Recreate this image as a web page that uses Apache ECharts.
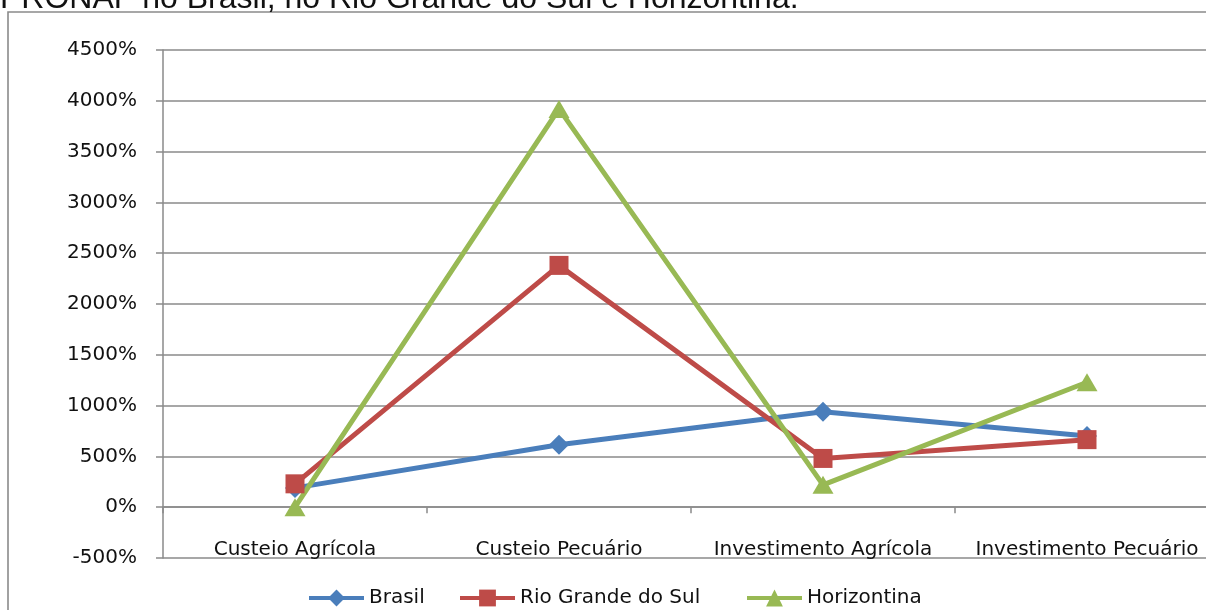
<!DOCTYPE html>
<html>
<head>
<meta charset="utf-8">
<script src="https://cdn.jsdelivr.net/npm/echarts@6/dist/echarts.min.js"></script>
<style>
  html, body { margin: 0; padding: 0; background: #fff; overflow: hidden; width: 1206px; height: 610px; }
  #chart { width: 1225px; height: 610px; }
</style>
</head>
<body>
<div id="chart"></div>
<script>
// Variação dos recursos do PRONAF por modalidade (%)
const categories = ['Custeio Agrícola', 'Custeio Pecuário', 'Investimento Agrícola', 'Investimento Pecuário'];
const brasil = [190, 615, 940, 700];
const rioGrandeDoSul = [230, 2380, 480, 665];
const horizontina = [0, 3920, 220, 1230];
const seriesNames = ['Brasil', 'Rio Grande do Sul', 'Horizontina'];
const headingText = 'PRONAF no Brasil, no Rio Grande do Sul e Horizontina.';

const FONT = 'DejaVu Sans';
const GRID = '#8a8a8a';
const colors = ['#4A7EBB', '#BE4B48', '#98B954'];

const chart = echarts.init(document.getElementById('chart'), null, { renderer: 'canvas' });

function lineSeries(name, data, color, symbol, size) {
  return {
    name: name,
    type: 'line',
    data: data,
    symbol: symbol,
    symbolSize: size,
    showAllSymbol: true,
    lineStyle: { color: color, width: 5 },
    itemStyle: { color: color },
    emphasis: { disabled: true },
    animation: false
  };
}

chart.setOption({
  animation: false,
  graphic: [
    {
      type: 'text',
      left: 0,
      top: -17,
      style: {
        text: headingText,
        font: '32px "Liberation Sans", Arial, sans-serif',
        fill: '#111'
      },
      z: 10
    },
    {
      type: 'rect',
      shape: { x: 8, y: 12, width: 1400, height: 800 },
      style: { fill: 'none', stroke: '#8a8a8a', lineWidth: 1.6 },
      silent: true,
      z: 0
    }
  ],
  grid: { left: 163, top: 50, right: 6, bottom: 52, containLabel: false },
  legend: [
    { data: [seriesNames[0]], left: 307 },
    { data: [seriesNames[1]], left: 458 },
    { data: [seriesNames[2]], left: 745 }
  ].map(l => Object.assign(l, {
    top: 588,
    padding: 0,
    itemWidth: 55,
    itemHeight: 21,
    itemGap: 0,
    lineStyle: { width: 4 },
    textStyle: { fontFamily: FONT, fontSize: 20, color: '#111' },
    selectedMode: false
  })),
  xAxis: {
    type: 'category',
    data: categories,
    boundaryGap: true,
    axisLine: { onZero: true, lineStyle: { color: GRID, width: 1.5 } },
    axisTick: { show: true, length: 6, lineStyle: { color: GRID, width: 1.5 } },
    axisLabel: { fontFamily: FONT, fontSize: 20, color: '#111', margin: -18, interval: 0 },
    splitLine: { show: false }
  },
  yAxis: {
    type: 'value',
    min: -500,
    max: 4500,
    interval: 500,
    axisLine: { show: true, lineStyle: { color: GRID, width: 1.5 } },
    axisTick: { show: true, length: 7, lineStyle: { color: GRID, width: 1.5 } },
    axisLabel: { fontFamily: FONT, fontSize: 20, color: '#111', margin: 26, formatter: v => v + '%' },
    splitLine: { show: true, lineStyle: { color: GRID, width: 1.5 } }
  },
  series: [
    lineSeries(seriesNames[0], brasil, colors[0], 'diamond', [20, 20]),
    lineSeries(seriesNames[1], rioGrandeDoSul, colors[1], 'rect', [19, 19]),
    lineSeries(seriesNames[2], horizontina, colors[2], 'triangle', [21, 18])
  ]
});
</script>
</body>
</html>
